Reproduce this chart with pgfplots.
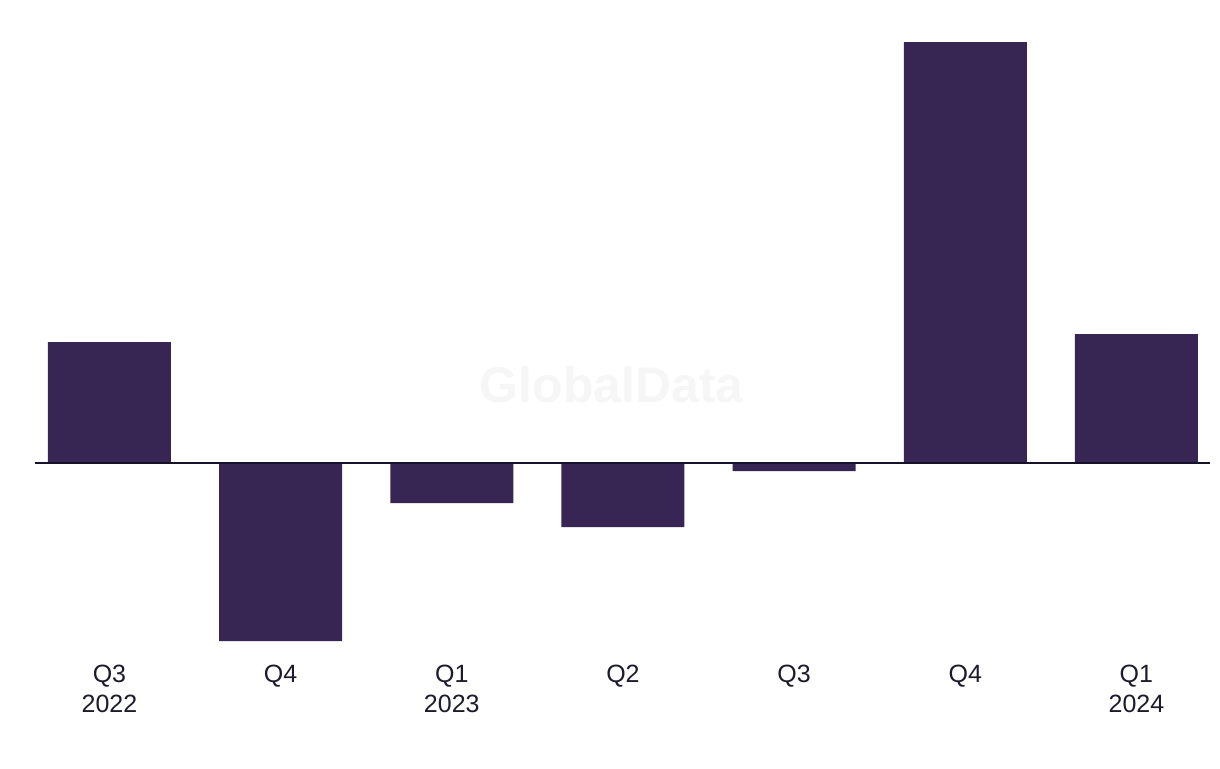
\documentclass[border=0pt]{standalone}
\usepackage{pgfplots}
\pgfplotsset{compat=1.18}
\usepackage{fontspec}
\setmainfont{Liberation Sans}
\definecolor{barc}{HTML}{372554}
\definecolor{zeroc}{HTML}{15122A}
\definecolor{txtc}{HTML}{1B1B2B}
\definecolor{wm}{HTML}{F6F6F6}
\begin{document}
\begin{tikzpicture}
\useasboundingbox (-17.5pt,-63.5pt) rectangle (592.5pt,320.5pt);
\begin{axis}[
  scale only axis,
  width=587.5pt, height=299.5pt,
  at={(0,0)}, anchor=south west,
  xmin=-0.435, xmax=6.43,
  ymin=-178, ymax=421,
  axis lines=none,
  ytick=\empty,
  xtick={0,...,6},
  xticklabels={{Q3\\2022},{Q4},{Q1\\2023},{Q2},{Q3},{Q4},{Q1\\2024}},
  xticklabel style={align=center, font=\fontsize{12.5pt}{15pt}\selectfont, text=txtc, anchor=north, yshift=-8.5pt},
  hide x axis=false,
  separate axis lines,
  x axis line style={draw=none},
  major tick length=0pt,
  xtick pos=bottom,
  clip=false,
]
\node[text=wm, font=\bfseries\fontsize{25pt}{25pt}\selectfont] at (axis cs:2.935,78) {GlobalData};
\addplot[ybar, bar width=61.5pt, fill=barc, draw=none] coordinates {
(0,121) (1,-178) (2,-40) (3,-64) (4,-8) (5,421) (6,129)
};
\draw[zeroc, line width=1pt] (axis cs:-0.435,0) -- (axis cs:6.43,0);
\end{axis}
\end{tikzpicture}
\end{document}
